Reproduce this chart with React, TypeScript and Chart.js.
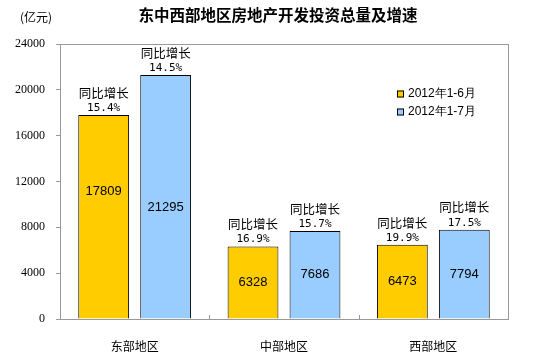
import React, { useEffect, useRef } from "react";
import { Chart, registerables } from "chart.js";

Chart.register(...registerables);

const categories = ["东部地区", "中部地区", "西部地区"];
const seriesNames = ["2012年1-6月", "2012年1-7月"];
const valuesJun = [17809, 6328, 6473];
const valuesJul = [21295, 7686, 7794];
const growthJun = ["15.4%", "16.9%", "19.9%"];
const growthJul = ["14.5%", "15.7%", "17.5%"];
const yTicks = [0, 4000, 8000, 12000, 16000, 20000, 24000];
const titleText = "东中西部地区房地产开发投资总量及增速";
const unitText = "(亿元)";
const growthLabel = "同比增长";

const colors = ["#FFCC00", "#99CCFF"];
// vertical position of value label inside each bar (fraction of bar height from bottom)
const labelFrac = [
  [0.624, 0.5, 0.5],
  [0.455, 0.5, 0.5],
];

const CJK = '"Noto Sans CJK SC", sans-serif';

const overlay = {
  id: "overlay",
  afterDraw(chart: any) {
    const ctx = chart.ctx;
    const ca = chart.chartArea;
    ctx.save();
    // frame
    ctx.strokeStyle = "#999999";
    ctx.lineWidth = 1;
    ctx.strokeRect(Math.round(ca.left) + 0.5, Math.round(ca.top) + 0.5, Math.round(ca.right - ca.left), Math.round(ca.bottom - ca.top));
    // category separators ticks
    const catW = (ca.right - ca.left) / categories.length;
    for (let i = 1; i < categories.length; i++) {
      const x = Math.round(ca.left + i * catW) + 0.5;
      ctx.beginPath();
      ctx.moveTo(x, ca.bottom - 4);
      ctx.lineTo(x, ca.bottom);
      ctx.stroke();
    }
    // title
    ctx.fillStyle = "#000";
    ctx.textAlign = "center";
    ctx.textBaseline = "middle";
    ctx.font = `bold 15.5px ${CJK}`;
    ctx.fillText(titleText, 278, 15);
    ctx.font = `12px ${CJK}`;
    ctx.textAlign = "left";
    ctx.fillText(unitText, 20, 17);

    // bar labels
    const growth = [growthJun, growthJul];
    const vals = [valuesJun, valuesJul];
    for (let d = 0; d < 2; d++) {
      const meta = chart.getDatasetMeta(d);
      meta.data.forEach((bar: any, i: number) => {
        const x = bar.x;
        const top = bar.y;
        const base = bar.base;
        ctx.textAlign = "center";
        ctx.textBaseline = "middle";
        ctx.fillStyle = "#000";
        ctx.font = `13px "Liberation Sans", Arial, sans-serif`;
        ctx.fillText(String(vals[d][i]), x, base - (base - top) * labelFrac[d][i]);
        ctx.font = `12.5px ${CJK}`;
        ctx.fillText(growthLabel, x, top - 22);
        ctx.font = `11px "DejaVu Sans Mono", monospace`;
        ctx.fillText(growth[d][i], x, top - 7);
      });
    }

    // legend
    ctx.textAlign = "left";
    ctx.textBaseline = "middle";
    ctx.font = `12px "Liberation Sans", Arial, sans-serif`;
    const ly = [94, 112];
    for (let d = 0; d < 2; d++) {
      ctx.fillStyle = colors[d];
      ctx.fillRect(397, ly[d] - 3.5, 7, 7);
      ctx.strokeStyle = "#000";
      ctx.strokeRect(397.5, ly[d] - 3.5 + 0.5, 6, 6);
      ctx.fillStyle = "#000";
      ctx.fillText(seriesNames[d], 408, ly[d]);
    }
    ctx.restore();
  },
};

export default function App() {
  const ref = useRef<HTMLCanvasElement | null>(null);
  useEffect(() => {
    if (!ref.current) return;
    const chart = new Chart(ref.current, {
      type: "bar",
      data: {
        labels: categories,
        datasets: [
          {
            label: seriesNames[0],
            data: valuesJun,
            backgroundColor: colors[0],
            borderColor: "#000",
            borderWidth: 1,
            categoryPercentage: 0.83,
            barPercentage: 0.82,
          },
          {
            label: seriesNames[1],
            data: valuesJul,
            backgroundColor: colors[1],
            borderColor: "#000",
            borderWidth: 1,
            categoryPercentage: 0.83,
            barPercentage: 0.82,
          },
        ],
      },
      options: {
        responsive: false,
        animation: false,
        layout: { padding: { left: 0, top: 44, right: 46, bottom: 0 } },
        plugins: {
          legend: { display: false },
          title: { display: false },
          tooltip: { enabled: false },
        },
        scales: {
          x: {
            afterFit: (s: any) => {
              s.height = 41;
            },
            grid: { display: false },
            border: { display: false },
            ticks: {
              padding: 12,
              color: "#000",
              font: { family: "Noto Sans CJK SC", size: 12 },
            },
          },
          y: {
            min: 0,
            max: 24000,
            afterFit: (s: any) => {
              s.width = 60;
            },
            afterBuildTicks: (s: any) => {
              s.ticks = yTicks.map((v) => ({ value: v }));
            },
            grid: {
              drawOnChartArea: false,
              drawTicks: true,
              tickLength: 4,
              color: "#999999",
            },
            border: { display: false },
            ticks: {
              padding: 11,
              color: "#000",
              font: { family: "Liberation Serif", size: 12 },
              callback: (v: any) => String(v),
            },
          },
        },
      },
      plugins: [overlay],
    } as any);
    return () => chart.destroy();
  }, []);
  return (
    <div style={{ position: "absolute", left: 0, top: 0, width: 554, height: 360, background: "#fff" }}>
      <canvas ref={ref} width={554} height={360} />
    </div>
  );
}
